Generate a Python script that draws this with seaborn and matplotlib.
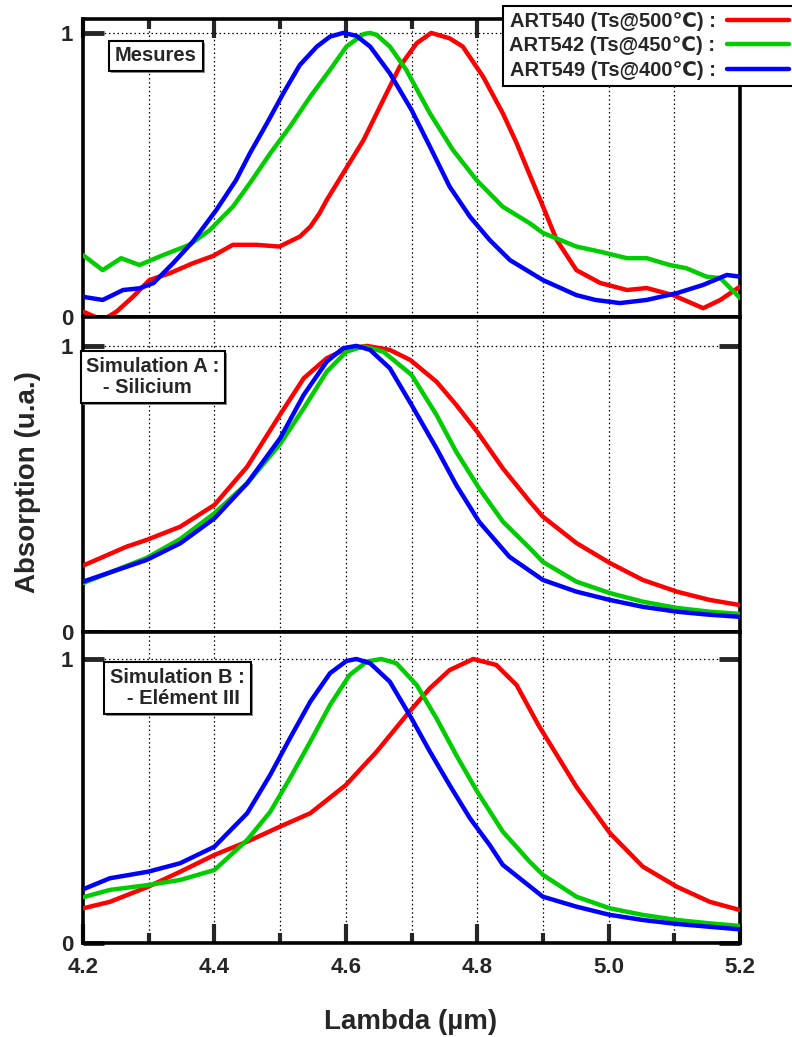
import matplotlib
matplotlib.use("Agg")
import matplotlib.pyplot as plt
import matplotlib.patheffects as pe
from matplotlib.lines import Line2D
from matplotlib.ticker import MultipleLocator, FixedLocator
import pandas as pd
import seaborn as sns

sns.set_style("ticks")
plt.rcParams["font.family"] = ["Liberation Sans", "DejaVu Sans"]
plt.rcParams["font.weight"] = "bold"

samples = ["ART540 (Ts@500℃) :", "ART542 (Ts@450℃) :", "ART549 (Ts@400℃) :"]
colors = ["#ff0000", "#00cc00", "#0000ff"]
panel_notes = ["Mesures", "Simulation A :\n   - Silicium", "Simulation B :\n   - Elément III"]
x_ticks = [4.2, 4.4, 4.6, 4.8, 5.0, 5.2]
x_tick_labels = ["4.2", "4.4", "4.6", "4.8", "5.0", "5.2"]

# --- Mesures ---
mes_540_x = [4.20, 4.23, 4.251, 4.276, 4.301, 4.332, 4.367, 4.398, 4.428, 4.464, 4.499, 4.53,
             4.546, 4.56, 4.571, 4.596, 4.627, 4.657, 4.682, 4.708, 4.73, 4.758, 4.778, 4.809,
             4.839, 4.86, 4.88, 4.896, 4.921, 4.951, 4.987, 5.028, 5.058, 5.098, 5.144, 5.17, 5.20]
mes_540_y = [0.019, -0.011, 0.019, 0.071, 0.13, 0.154, 0.189, 0.215, 0.254, 0.254, 0.248, 0.283,
             0.318, 0.365, 0.412, 0.506, 0.623, 0.764, 0.881, 0.964, 1.0, 0.981, 0.952, 0.846,
             0.717, 0.612, 0.50, 0.412, 0.271, 0.165, 0.12, 0.095, 0.102, 0.077, 0.031, 0.06, 0.107]
mes_542_x = [4.20, 4.23, 4.258, 4.286, 4.322, 4.362, 4.393, 4.428, 4.454, 4.485, 4.515, 4.546,
             4.576, 4.601, 4.627, 4.637, 4.647, 4.667, 4.692, 4.728, 4.763, 4.799, 4.839, 4.88,
             4.9, 4.951, 4.987, 5.028, 5.058, 5.093, 5.118, 5.149, 5.17, 5.20]
mes_542_y = [0.218, 0.165, 0.207, 0.183, 0.218, 0.254, 0.306, 0.388, 0.471, 0.576, 0.67, 0.776,
             0.87, 0.952, 0.996, 1.0, 0.993, 0.952, 0.87, 0.717, 0.588, 0.482, 0.388, 0.33,
             0.296, 0.248, 0.23, 0.207, 0.207, 0.183, 0.172, 0.142, 0.137, 0.067]
mes_549_x = [4.20, 4.23, 4.261, 4.286, 4.307, 4.337, 4.367, 4.403, 4.433, 4.454, 4.48, 4.505,
             4.53, 4.556, 4.576, 4.596, 4.616, 4.637, 4.667, 4.70, 4.728, 4.758, 4.789, 4.819,
             4.85, 4.90, 4.951, 4.98, 5.017, 5.058, 5.104, 5.144, 5.18, 5.20]
mes_549_y = [0.071, 0.06, 0.095, 0.101, 0.119, 0.189, 0.265, 0.377, 0.482, 0.576, 0.682, 0.788,
             0.887, 0.952, 0.987, 1.0, 0.99, 0.952, 0.858, 0.729, 0.60, 0.459, 0.353, 0.271,
             0.20, 0.13, 0.077, 0.06, 0.049, 0.06, 0.084, 0.113, 0.148, 0.142]

# --- Simulation A ---
simA_540_x = [4.20, 4.266, 4.297, 4.348, 4.40, 4.45, 4.50, 4.536, 4.571, 4.601, 4.632, 4.667,
              4.698, 4.738, 4.768, 4.80, 4.839, 4.88, 4.90, 4.951, 5.002, 5.052, 5.104, 5.154, 5.20]
simA_540_y = [0.232, 0.298, 0.322, 0.368, 0.444, 0.578, 0.76, 0.887, 0.957, 0.99, 1.0, 0.986,
              0.951, 0.875, 0.794, 0.70, 0.572, 0.456, 0.403, 0.311, 0.241, 0.182, 0.141, 0.112, 0.094]
simA_542_x = [4.20, 4.297, 4.348, 4.40, 4.45, 4.50, 4.536, 4.571, 4.601, 4.627, 4.657, 4.70,
              4.738, 4.768, 4.803, 4.839, 4.88, 4.90, 4.951, 5.002, 5.052, 5.104, 5.154, 5.20]
simA_542_y = [0.171, 0.259, 0.325, 0.415, 0.52, 0.657, 0.782, 0.91, 0.98, 0.998, 0.98, 0.899,
              0.759, 0.63, 0.502, 0.386, 0.293, 0.245, 0.176, 0.136, 0.106, 0.084, 0.071, 0.063]
simA_549_x = [4.20, 4.297, 4.348, 4.40, 4.45, 4.50, 4.536, 4.571, 4.596, 4.616, 4.637, 4.667,
              4.70, 4.738, 4.768, 4.803, 4.849, 4.90, 4.951, 5.002, 5.052, 5.104, 5.15, 5.20]
simA_549_y = [0.176, 0.252, 0.31, 0.397, 0.52, 0.677, 0.829, 0.945, 0.992, 1.0, 0.986, 0.922,
              0.794, 0.642, 0.514, 0.385, 0.263, 0.182, 0.141, 0.112, 0.088, 0.071, 0.061, 0.053]

# --- Simulation B ---
simB_540_x = [4.20, 4.241, 4.299, 4.348, 4.40, 4.45, 4.50, 4.546, 4.60, 4.647, 4.697, 4.728,
              4.758, 4.794, 4.829, 4.86, 4.893, 4.951, 5.002, 5.052, 5.104, 5.154, 5.20]
simB_540_y = [0.122, 0.145, 0.198, 0.251, 0.31, 0.357, 0.41, 0.457, 0.556, 0.674, 0.815, 0.897,
              0.961, 1.0, 0.979, 0.908, 0.768, 0.55, 0.387, 0.269, 0.198, 0.145, 0.116]
simB_542_x = [4.20, 4.241, 4.299, 4.348, 4.40, 4.45, 4.485, 4.515, 4.546, 4.576, 4.606, 4.632,
              4.654, 4.677, 4.708, 4.738, 4.768, 4.80, 4.839, 4.88, 4.90, 4.951, 5.002, 5.052,
              5.104, 5.15, 5.20]
simB_542_y = [0.161, 0.187, 0.204, 0.222, 0.257, 0.363, 0.462, 0.58, 0.709, 0.838, 0.944, 0.991,
              1.0, 0.985, 0.908, 0.791, 0.662, 0.533, 0.392, 0.286, 0.24, 0.163, 0.122, 0.099,
              0.081, 0.07, 0.06]
simB_549_x = [4.20, 4.241, 4.299, 4.348, 4.40, 4.45, 4.485, 4.515, 4.546, 4.576, 4.601, 4.616,
              4.637, 4.667, 4.70, 4.728, 4.758, 4.789, 4.819, 4.839, 4.90, 4.951, 5.002, 5.052,
              5.104, 5.20]
simB_549_y = [0.189, 0.228, 0.251, 0.281, 0.339, 0.457, 0.592, 0.721, 0.85, 0.95, 0.993, 1.0,
              0.985, 0.92, 0.791, 0.674, 0.556, 0.439, 0.345, 0.275, 0.163, 0.128, 0.099, 0.081,
              0.067, 0.048]

panels = [
    [(mes_540_x, mes_540_y), (mes_542_x, mes_542_y), (mes_549_x, mes_549_y)],
    [(simA_540_x, simA_540_y), (simA_542_x, simA_542_y), (simA_549_x, simA_549_y)],
    [(simB_540_x, simB_540_y), (simB_542_x, simB_542_y), (simB_549_x, simB_549_y)],
]


def long_frame(series):
    parts = []
    for name, (xs, ys) in zip(samples, series):
        parts.append(pd.DataFrame({"lambda": xs, "absorption": ys, "sample": name}))
    return pd.concat(parts, ignore_index=True)


W, H = 792, 1037
fig = plt.figure(figsize=(W / 100, H / 100), dpi=100)

# axes boxes in pixels: (top, bottom) and the upper y limit of each panel
left_px, right_px = 83, 740
boxes = [(19, 317, 1.049), (317, 632, 1.101), (632, 943, 1.095)]
note_pos = [(0.111, 0.876), (0.1065, 0.81), (0.1438, 0.82)]

palette = dict(zip(samples, colors))
axes = []
for i, ((top, bot, ytop), series) in enumerate(zip(boxes, panels)):
    ax = fig.add_axes([left_px / W, 1 - bot / H, (right_px - left_px) / W, (bot - top) / H])
    axes.append(ax)
    df = long_frame(series)
    sns.lineplot(data=df, x="lambda", y="absorption", hue="sample", palette=palette,
                 estimator=None, sort=False, lw=3.2, legend=False, ax=ax,
                 solid_capstyle="round", solid_joinstyle="round", zorder=3)
    ax.set_xlim(4.2, 5.2)
    ax.set_ylim(0, ytop)
    ax.set_xlabel("")
    ax.set_ylabel("")
    ax.xaxis.set_major_locator(FixedLocator(x_ticks))
    ax.xaxis.set_minor_locator(MultipleLocator(0.1))
    ax.yaxis.set_major_locator(FixedLocator([0, 1]))
    ax.set_yticklabels(["0", "1"], fontsize=16, fontweight="bold")
    ax.grid(True, which="both", axis="x", ls=(0, (1.2, 2.2)), color="black", lw=0.9)
    ax.grid(True, which="major", axis="y", ls=(0, (1.2, 2.2)), color="black", lw=0.9)
    for s in ax.spines.values():
        s.set_linewidth(2.6)
        s.set_color("black")
    ax.tick_params(axis="y", which="major", direction="in", length=15, width=3.5,
                   left=True, right=True, labelleft=True, pad=7)
    ax.tick_params(axis="x", which="major", direction="in", length=14, width=3,
                   bottom=(i == 2), top=(i == 0), labelbottom=(i == 2), pad=10)
    ax.tick_params(axis="x", which="minor", direction="in", length=7, width=3,
                   bottom=(i == 2), top=(i == 0))
    if i == 2:
        ax.set_xticklabels(x_tick_labels, fontsize=16, fontweight="bold")
    ax.set_facecolor("white")
    nx, ny = note_pos[i]
    note = ax.text(nx, ny, panel_notes[i], transform=ax.transAxes, ha="center", va="center",
                   fontsize=14.5, fontweight="bold", multialignment="left", zorder=5,
                   linespacing=1.15,
                   bbox=dict(boxstyle="square,pad=0.28", fc="white", ec="black", lw=1.5))
    note.get_bbox_patch().set_path_effects(
        [pe.SimplePatchShadow(offset=(1.5, -1.5), shadow_rgbFace="0.45", alpha=0.8), pe.Normal()])

fig.text(411 / W, 1 - 1022 / H, "Lambda (µm)", ha="center", va="center",
         fontsize=20, fontweight="bold")
fig.text(28 / W, 1 - 482 / H, "Absorption (u.a.)", ha="center", va="center",
         rotation=90, fontsize=20, fontweight="bold")

handles = [Line2D([], [], color=c, lw=3.2, solid_capstyle="round") for c in colors]
leg = fig.legend(handles, samples, loc="upper right", bbox_to_anchor=(1.004, 1 - 6 / H),
                 borderaxespad=0, markerfirst=False, handlelength=3.1, handletextpad=0.55,
                 labelspacing=0.27, borderpad=0.3, fancybox=False, framealpha=1,
                 edgecolor="black", prop=dict(size=14.5, weight="bold"))
leg.get_frame().set_linewidth(1.5)

fig.savefig("out.png", dpi=100)
